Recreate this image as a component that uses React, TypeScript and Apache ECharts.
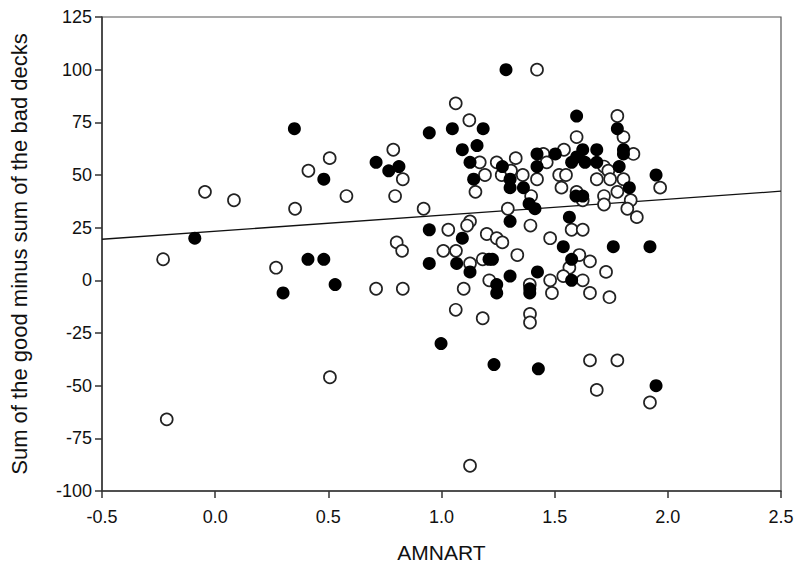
import React, { useEffect, useRef } from "react";
import * as echarts from "echarts";

// Filled (black) markers: [AMNART, score]
const filledPoints: number[][] = [
  [0.35, 72], [0.48, 48], [-0.09, 20], [0.41, 10], [0.48, 10], [0.30, -6], [0.53, -2],
  [1.285, 100], [0.946, 70], [1.048, 72], [1.184, 72], [1.092, 62], [1.157, 64], [1.126, 56], [1.142, 48],
  [0.711, 56], [0.767, 52], [0.812, 54],
  [1.269, 54], [1.303, 48], [1.303, 44], [1.362, 44], [1.387, 36.4], [1.413, 34], [1.422, 60], [1.422, 54], [1.503, 60],
  [1.303, 28], [0.946, 24], [1.092, 20], [1.21, 10], [1.225, 10],
  [0.946, 8], [1.067, 8], [1.126, 4], [1.303, 2], [1.424, 4], [1.244, -2], [1.244, -6], [1.39, -4], [1.39, -6],
  [0.998, -30], [1.232, -40], [1.428, -42],
  [1.597, 78], [1.777, 72], [1.624, 62], [1.686, 62], [1.804, 62], [1.804, 60], [1.575, 56], [1.597, 58.6],
  [1.634, 56], [1.686, 56], [1.785, 54], [1.948, 50], [1.83, 44], [1.594, 40], [1.624, 40], [1.565, 30],
  [1.538, 16], [1.759, 16], [1.921, 16], [1.575, 10], [1.575, 0], [1.948, -50],
];

// Open (white) markers: [AMNART, score]
const openPoints: number[][] = [
  [0.506, 58], [0.412, 52], [-0.045, 42], [0.083, 38], [0.353, 34], [0.58, 40], [-0.23, 10], [0.269, 6], [0.507, -46], [-0.214, -66],
  [1.422, 100], [1.063, 84], [1.123, 76], [1.169, 56], [1.192, 50], [1.15, 42], [0.787, 62], [0.829, 48], [0.795, 40], [0.921, 34],
  [1.244, 56], [1.328, 58], [1.266, 50], [1.307, 52], [1.359, 50], [1.396, 40], [1.293, 34], [1.45, 60], [1.465, 56], [1.422, 48],
  [1.52, 50], [1.55, 50], [1.53, 44],
  [1.393, 26], [1.48, 20], [1.03, 24], [1.126, 28], [1.113, 26], [1.2, 22], [1.244, 20], [1.269, 18], [0.802, 18], [0.826, 14],
  [1.008, 14], [1.064, 14], [1.335, 12],
  [1.126, 8], [1.182, 10], [1.211, 0], [1.39, -2], [1.48, 0], [1.488, -6], [0.711, -4], [0.829, -4], [1.098, -4], [1.063, -14],
  [1.182, -18], [1.391, -16], [1.391, -20], [1.126, -88],
  [1.777, 78], [1.597, 68], [1.804, 68], [1.541, 62], [1.848, 60], [1.718, 54], [1.737, 52], [1.686, 48], [1.745, 48], [1.804, 48],
  [1.966, 44], [1.597, 42], [1.624, 38], [1.718, 40], [1.718, 36], [1.777, 42], [1.836, 38], [1.821, 34], [1.863, 30], [1.575, 24],
  [1.624, 24], [1.609, 12], [1.656, 9], [1.565, 6], [1.727, 4], [1.538, 2], [1.624, 0], [1.656, -6], [1.742, -8], [1.656, -38],
  [1.777, -38], [1.686, -52], [1.921, -58],
];

// Regression line endpoints
const regressionLine: number[][] = [[-0.5, 19.5], [2.5, 42.3]];

const xTitle = "AMNART";
const yTitle = "Sum of the good minus sum of the bad decks";

const FONT = "'Liberation Sans', Arial, sans-serif";

export default function App() {
  const ref = useRef<HTMLDivElement>(null);
  useEffect(() => {
    if (!ref.current) return;
    const chart = echarts.init(ref.current, undefined, { renderer: "svg" });
    const axisColor = "#333";
    chart.setOption({
      animation: false,
      backgroundColor: "#fff",
      grid: {
        left: 102, right: 19, top: 17, bottom: 84,
        show: true, borderColor: "#555", borderWidth: 1.2, backgroundColor: "transparent",
      },
      xAxis: {
        type: "value", min: -0.5, max: 2.5, interval: 0.5,
        name: xTitle, nameLocation: "middle", nameGap: 51,
        nameTextStyle: { fontFamily: FONT, fontSize: 21, color: "#111" },
        axisLine: { show: true, onZero: false, lineStyle: { color: axisColor, width: 1.5 } },
        axisTick: { show: true, inside: false, length: 7, lineStyle: { color: axisColor, width: 1.5 } },
        axisLabel: {
          fontFamily: FONT, fontSize: 18, color: "#111", margin: 17,
          formatter: (v: number) => v.toFixed(1),
        },
        splitLine: { show: false },
      },
      yAxis: {
        type: "value", min: -100, max: 125, interval: 25,
        name: yTitle, nameLocation: "middle", nameGap: 72,
        nameTextStyle: { fontFamily: FONT, fontSize: 22, color: "#111" },
        axisLine: { show: true, onZero: false, lineStyle: { color: axisColor, width: 1.5 } },
        axisTick: { show: true, inside: false, length: 7, lineStyle: { color: axisColor, width: 1.5 } },
        axisLabel: { fontFamily: FONT, fontSize: 18, color: "#111", margin: 10 },
        splitLine: { show: false },
      },
      series: [
        {
          type: "line", data: regressionLine, symbol: "none", silent: true,
          lineStyle: { color: "#111", width: 1.3 }, z: 1,
        },
        {
          type: "scatter", data: openPoints, symbol: "circle", symbolSize: 12,
          itemStyle: { color: "#fff", borderColor: "#222", borderWidth: 1.7, opacity: 1 }, z: 2,
        },
        {
          type: "scatter", data: filledPoints, symbol: "circle", symbolSize: 13,
          itemStyle: { color: "#000", borderColor: "#000", borderWidth: 0, opacity: 1 }, z: 3,
        },
      ],
    });
    return () => chart.dispose();
  }, []);
  return (
    <div
      ref={ref}
      style={{ position: "fixed", left: 0, top: 0, width: 800, height: 575, background: "#fff" }}
    />
  );
}
